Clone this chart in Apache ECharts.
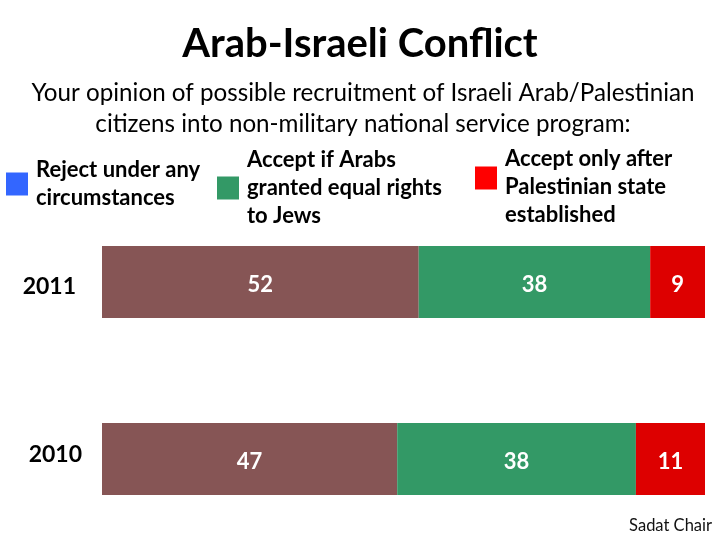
<!DOCTYPE html>
<html>
<head>
<meta charset="utf-8">
<script src="https://cdn.jsdelivr.net/npm/echarts@6/dist/echarts.min.js"></script>
<style>html,body{margin:0;padding:0;background:#fff}#c{width:720px;height:540px}</style>
</head>
<body>
<div id="c"></div>
<script>
var years = ['2011', '2010'];
var seriesNames = ['Reject under any circumstances', 'Accept if Arabs granted equal rights to Jews', 'Accept only after Palestinian state established'];
var rejectVals = [52, 47];
var equalRightsVals = [38, 38];
var stateVals = [9, 11];

var FONT = 'Lato';
var raw = [rejectVals, equalRightsVals, stateVals];
var totals = years.map(function (y, i) { return raw.reduce(function (s, a) { return s + a[i]; }, 0); });
var barColors = ['#865555', '#339966', '#DD0000'];
var legendColors = ['#3366FF', '#339966', '#FF0000'];
var legendText = {};
legendText[seriesNames[0]] = '{t|Reject under any}\n{t|circumstances}';
legendText[seriesNames[1]] = '{t|Accept if Arabs}\n{t|granted equal rights}\n{t|to Jews}';
legendText[seriesNames[2]] = '{s|}\n{t|Accept only after}\n{t|Palestinian state}\n{t|established}';

var legendPos = [
  { left: 6, top: 159 },
  { left: 217, top: 149 },
  { left: 475, top: 131 }
];

var chart = echarts.init(document.getElementById('c'));
chart.setOption({
  animation: false,
  backgroundColor: '#fff',
  title: [
    { text: 'Arab-Israeli Conflict', left: 'center', top: 19,
      textStyle: { fontFamily: FONT, fontSize: 40, fontWeight: 'bold', color: '#000' } },
    { text: 'Your opinion of possible recruitment of Israeli Arab/Palestinian\ncitizens into non-military national service program:', left: 358, top: 73,
      textAlign: 'center',
      textStyle: { fontFamily: FONT, fontSize: 24.2, fontWeight: 'normal', color: '#000', lineHeight: 31 } },
    { text: 'Sadat Chair', right: 8, top: 517, padding: 0,
      textStyle: { fontFamily: FONT, fontSize: 16.5, fontWeight: 'normal', color: '#111' } }
  ],
  legend: seriesNames.map(function (n, i) {
    return {
      data: [{ name: n, itemStyle: { color: legendColors[i] } }],
      left: legendPos[i].left, top: legendPos[i].top, padding: 0,
      itemWidth: 22, itemHeight: 23, icon: 'rect',
      selectedMode: false,
      formatter: function (name) { return legendText[name]; },
      textStyle: {
        rich: {
          t: { fontFamily: FONT, fontSize: 22, fontWeight: 'bold', color: '#000', lineHeight: 28, padding: [0, 0, 0, 3] },
          s: { fontSize: 10, lineHeight: 18 }
        }
      }
    };
  }),
  grid: { left: 102, right: 15, top: 282, height: 177 },
  xAxis: { type: 'value', min: 0, max: 100, show: false },
  yAxis: {
    type: 'category', data: years, inverse: true, boundaryGap: false,
    axisLine: { show: false }, axisTick: { show: false }, splitLine: { show: false },
    axisLabel: {
      margin: 20,
      formatter: function (v) { return v === '2011' ? '{a|' + v + '}' : '{b|' + v + '}'; },
      rich: {
        a: { fontFamily: FONT, fontSize: 23, fontWeight: 'bold', color: '#000', padding: [10, 6, 0, 0] },
        b: { fontFamily: FONT, fontSize: 23, fontWeight: 'bold', color: '#000', padding: [0, 0, 8, 0] }
      }
    }
  },
  series: seriesNames.map(function (n, si) {
    return {
      name: n, type: 'bar', stack: 'total', barWidth: 72,
      itemStyle: { color: barColors[si] },
      label: {
        show: true, position: 'inside',
        formatter: function (p) { return '{v|' + raw[si][p.dataIndex] + '}'; },
        rich: { v: { fontFamily: FONT, fontSize: 22, fontWeight: 'bold', color: '#fff', padding: [6, 0, 0, 0] } }
      },
      data: raw[si].map(function (v, i) { return v / totals[i] * 100; })
    };
  })
});
</script>
</body>
</html>
